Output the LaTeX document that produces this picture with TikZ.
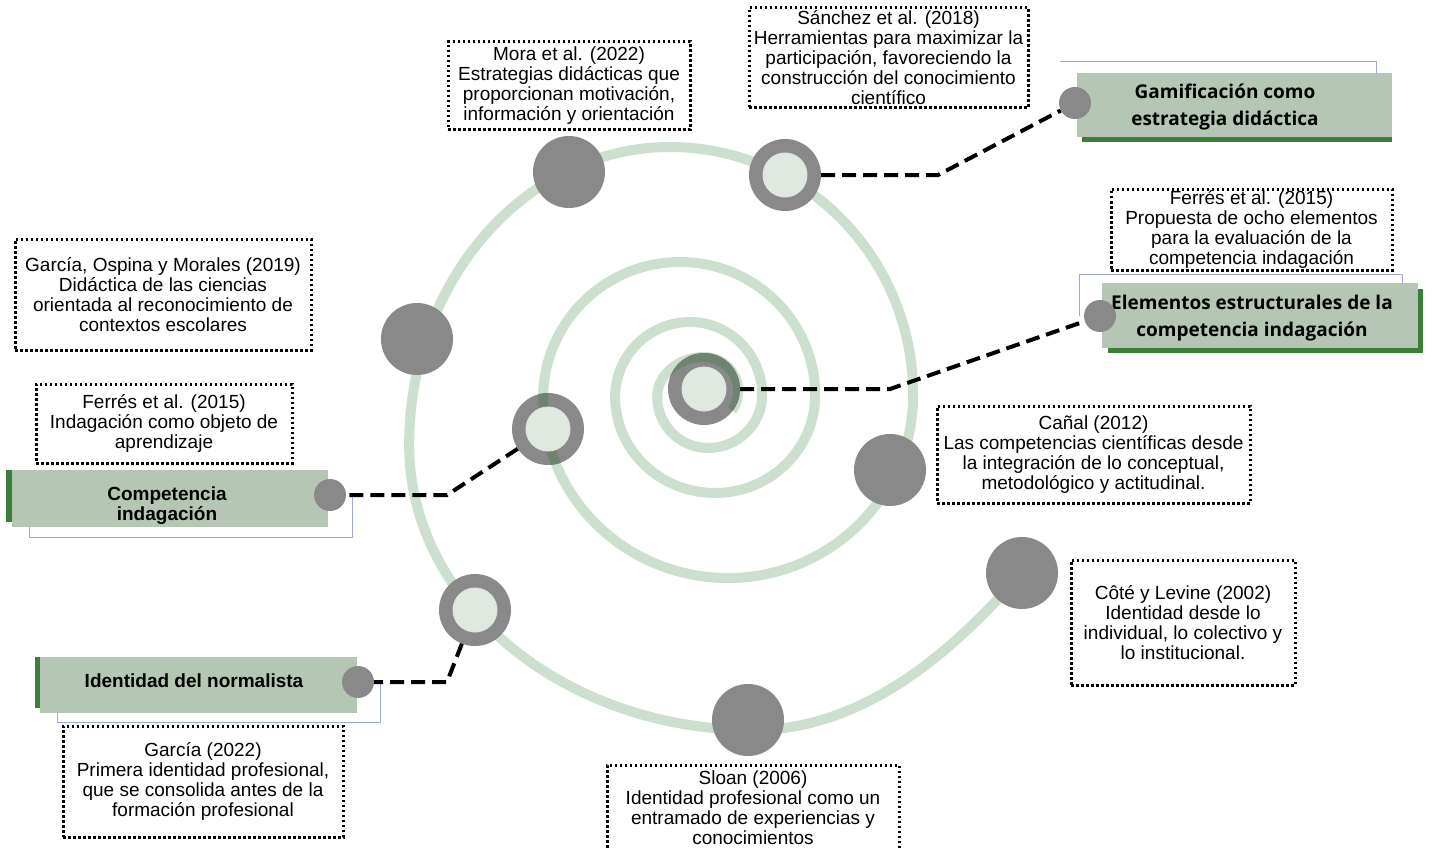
\documentclass[tikz,border=0pt]{standalone}
\usepackage{fontspec}
\setmainfont{Liberation Sans}
\newfontfamily\osans{Open Sans}
\definecolor{spir}{HTML}{CDDFCF}
\definecolor{dotgray}{HTML}{898989}
\definecolor{innerg}{HTML}{DFE9E0}
\definecolor{labg}{HTML}{B5C6B5}
\definecolor{darkg}{HTML}{3E7E3B}
\definecolor{lav}{HTML}{A3A8DA}
\definecolor{overg}{HTML}{6F8470}
\newcommand\myspiral{(732,410.5)
  arc[start angle=-35,end angle=90,x radius=34pt,y radius=34pt]
  arc[start angle=90,end angle=180,x radius=47pt,y radius=40pt]
  arc[start angle=180,end angle=270,x radius=51pt,y radius=51pt]
  arc[start angle=270,end angle=360,x radius=54pt,y radius=53pt]
  arc[start angle=0,end angle=90,x radius=72pt,y radius=73pt]
  arc[start angle=90,end angle=180,x radius=75pt,y radius=75pt]
  arc[start angle=180,end angle=270,x radius=100pt,y radius=96pt]
  arc[start angle=270,end angle=360,x radius=100pt,y radius=98pt]
  arc[start angle=0,end angle=90,x radius=135pt,y radius=133pt]
  arc[start angle=90,end angle=180,x radius=137pt,y radius=136pt]
  arc[start angle=180,end angle=270,x radius=185pt,y radius=180pt]
  arc[start angle=270,end angle=360,x radius=185pt,y radius=183pt]
  arc[start angle=0,end angle=90,x radius=243pt,y radius=248pt]
  arc[start angle=90,end angle=180,x radius=261pt,y radius=298pt]
  arc[start angle=180,end angle=270,x radius=345pt,y radius=285pt]
  .. controls (880,730) and (975,625) .. (1022,573)}
\begin{document}
\begin{tikzpicture}[x=1pt,y=-1pt,
  conn/.style={line width=4pt, dash pattern=on 14pt off 7pt},
  refbox/.style={draw, line width=3pt, dash pattern=on 2.5pt off 2.5pt, inner sep=0pt, align=center, font=\fontsize{19}{20}\selectfont},
  bigdot/.style={circle, fill=dotgray, minimum size=72pt, inner sep=0pt},
  hole/.style={circle, fill=innerg, minimum size=44pt, inner sep=0pt, draw=white!75!dotgray, line width=1pt},
  smalldot/.style={circle, fill=dotgray, minimum size=32pt, inner sep=0pt},
  labbox/.style={fill=labg, inner sep=0pt},
  labtxt/.style={align=center, inner sep=0pt, font=\osans\bfseries\fontsize{19}{26.5}\selectfont},
  labtxtb/.style={align=center, inner sep=0pt, font=\bfseries\fontsize{19}{20}\selectfont},
  frame/.style={draw=lav, line width=1pt},
]
\useasboundingbox (0,0) rectangle (1432,848);
\fill[white] (0,0) rectangle (1432,848);

% spiral
\draw[spir, line width=10pt] \myspiral;

% label frames
\draw[frame] (1060,62) -- (1376,62) -- (1376,73);
\draw[frame] (1079,316) -- (1079,274) -- (1402,274) -- (1402,284);
\draw[frame] (29,527) -- (29,537) -- (352,537) -- (352,497);
\draw[frame] (57,713) -- (57,722) -- (380,722) -- (380,683);

% label shadows
\fill[darkg] (1082,77) rectangle (1392,142);
\fill[darkg] (1108,289) rectangle (1423,353);
\fill[darkg] (6,470) rectangle (300,522);
\fill[darkg] (35,657) rectangle (300,708);

% label boxes
\node[labbox, minimum width=315pt, minimum height=64pt] (gambox) at (1234.5,105) {};
\node[labtxt] (gamtxt) at (1225,107) {Gamificación como\\estrategia didáctica};
\node[labbox, minimum width=316pt, minimum height=65pt] (elebox) at (1260,315.5) {};
\node[labtxt] (eletxt) at (1252,318) {Elementos estructurales de la\\competencia indagación};
\node[labbox, minimum width=316pt, minimum height=57pt] (combox) at (170,498.5) {};
\node[labtxtb] (comtxt) at (167,506) {Competencia\\indagación};
\node[labbox, minimum width=317pt, minimum height=56pt] (idebox) at (198.5,685) {};
\node[labtxtb] (idetxt) at (194,681) {Identidad del normalista};

% circles on the spiral
\node[bigdot] (dotMora) at (569,172) {};
\node[bigdot] (ringSan) at (785,175) {};
\node[bigdot] (dotGar) at (417,339) {};
\node[bigdot] (ringCen) at (704,389) {};
\node[bigdot] (ringCom) at (548,429) {};
\node[bigdot] (dotCan) at (890,470) {};
\node[bigdot] (dotCote) at (1022,573) {};
\node[bigdot] (ringIde) at (475,610) {};
\node[bigdot] (dotSloan) at (748,720) {};

% spiral seen through the two rings
\begin{scope}
\clip (704,389) circle[radius=36pt] (548,429) circle[radius=36pt];
\draw[overg, line width=10pt] \myspiral;
\end{scope}

\node[hole] (holeSan) at (ringSan) {};
\node[hole] (holeCen) at (ringCen) {};
\node[hole] (holeCom) at (ringCom) {};
\node[hole] (holeIde) at (ringIde) {};

% small dots at the labels
\node[smalldot] (sdGam) at (1075,103) {};
\node[smalldot] (sdEle) at (1100,316) {};
\node[smalldot] (sdCom) at (330,495) {};
\node[smalldot] (sdIde) at (358,682) {};

% connectors
\draw[conn] (ringSan) -- (938,175) -- (sdGam);
\draw[conn] (ringCen) -- (890,389) -- (sdEle);
\draw[conn] (ringCom) -- (447,495) -- (sdCom);
\draw[conn] (ringIde) -- (447,682) -- (sdIde);

% reference boxes
\node[refbox, minimum width=242pt, minimum height=88pt] (bMora) at (569,86)
  {Mora et al. (2022)\\Estrategias didácticas que\\proporcionan motivación,\\información y orientación};
\node[refbox, minimum width=279pt, minimum height=100pt] (bSan) at (888.5,58)
  {Sánchez et al. (2018)\\Herramientas para maximizar la\\participación, favoreciendo la\\construcción del conocimiento\\científico};
\node[refbox, minimum width=296pt, minimum height=111pt] (bGar) at (163,294.5)
  {García, Ospina y Morales (2019)\\Didáctica de las ciencias\\orientada al reconocimiento de\\contextos escolares};
\node[refbox, minimum width=256pt, minimum height=79pt] (bFerL) at (164,423.5)
  {Ferrés et al. (2015)\\Indagación como objeto de\\aprendizaje};
\node[refbox, minimum width=281pt, minimum height=81pt] (bFerR) at (1251.5,229.5)
  {Ferrés et al. (2015)\\Propuesta de ocho elementos\\para la evaluación de la\\competencia indagación};
\node[refbox, minimum width=313pt, minimum height=97pt] (bCan) at (1093.5,454.5)
  {Cañal (2012)\\Las competencias científicas desde\\la integración de lo conceptual,\\metodológico y actitudinal.};
\node[refbox, minimum width=224pt, minimum height=125pt] (bCote) at (1183,622.5)
  {Côté y Levine (2002)\\Identidad desde lo\\individual, lo colectivo y\\lo institucional.};
\node[refbox, minimum width=280pt, minimum height=111pt] (bGar22) at (203,781.5)
  {García (2022)\\Primera identidad profesional,\\que se consolida antes de la\\formación profesional};
\node[refbox, minimum width=292pt, minimum height=86pt] (bSloan) at (753,808)
  {Sloan (2006)\\Identidad profesional como un\\entramado de experiencias y\\conocimientos};
\end{tikzpicture}
\end{document}
